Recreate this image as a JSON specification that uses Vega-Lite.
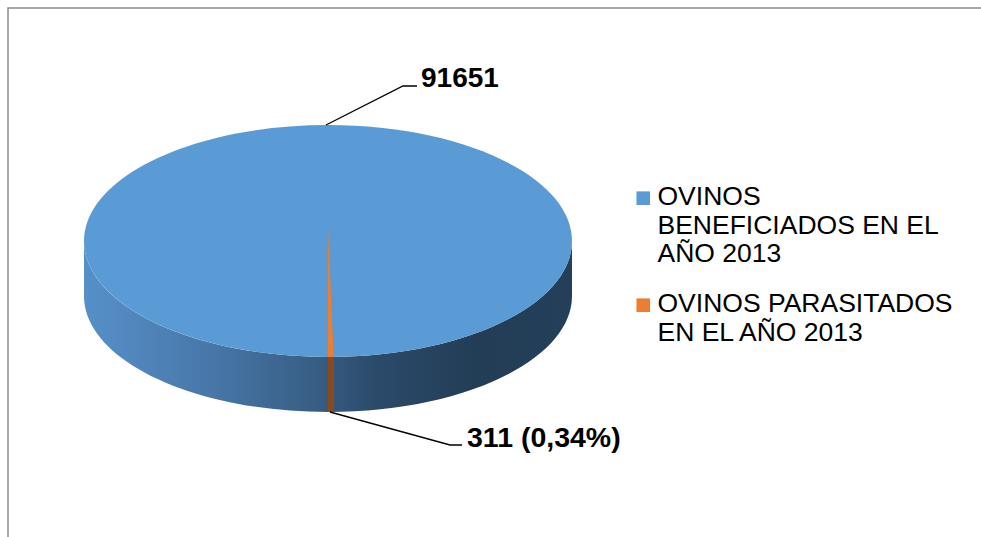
{
  "$schema": "https://vega.github.io/schema/vega-lite/v6.json",
  "autosize": {"type": "none"},
  "padding": {"left": 8, "top": 8, "right": -37, "bottom": -16},
  "width": 1010,
  "height": 545,
  "background": "#ffffff",
  "view": {"stroke": "#8a8a8a", "strokeWidth": 1.5, "fill": "#ffffff"},
  "config": {
    "view": {"stroke": "#8a8a8a", "strokeWidth": 1.5},
    "font": "Liberation Sans"
  },
  "data": {
    "values": [
      {"categoria": "OVINOS BENEFICIADOS EN EL AÑO 2013", "valor": 91651, "etiqueta": "91651"},
      {"categoria": "OVINOS PARASITADOS EN EL AÑO 2013", "valor": 311, "etiqueta": "311 (0,34%)"}
    ]
  },
  "layer": [
    {
      "transform": [{"filter": "datum.valor > 1000"}],
      "mark": {
        "type": "point", "filled": true, "opacity": 1, "size": 4, "strokeWidth": 0,
        "xOffset": -185, "yOffset": -39.5,
        "shape": "M -244 0 L -244 55 A 244 116 0 0 0 244 55 L 244 0 A 244 116 0 0 1 -244 0 Z",
        "fill": {"gradient": "linear", "x1": 0, "y1": 0, "x2": 1, "y2": 0,
          "stops": [
            {"offset": 0, "color": "#5690c9"},
            {"offset": 0.25, "color": "#4878aa"},
            {"offset": 0.48, "color": "#375d83"},
            {"offset": 0.6, "color": "#2b4a6a"},
            {"offset": 0.8, "color": "#233d56"},
            {"offset": 1, "color": "#243f59"}
          ]}
      },
      "encoding": {}
    },
    {
      "transform": [{"filter": "datum.valor < 1000"}],
      "mark": {
        "type": "point", "filled": true, "opacity": 1, "size": 4, "strokeWidth": 0,
        "xOffset": -185, "yOffset": -39.5,
        "shape": "M 0 115.5 L 5.8 115.5 L 5.8 171 L 0 171 Z",
        "fill": "#8a4a1f"
      },
      "encoding": {}
    },
    {
      "transform": [{"filter": "datum.valor > 1000"}],
      "mark": {
        "type": "point", "filled": true, "opacity": 1, "size": 4, "strokeWidth": 0,
        "xOffset": -185, "yOffset": -39.5,
        "shape": "M -244 0 A 244 116 0 1 0 244 0 A 244 116 0 1 0 -244 0 Z"
      },
      "encoding": {
        "color": {
          "field": "categoria", "type": "nominal",
          "scale": {
            "domain": ["OVINOS BENEFICIADOS EN EL AÑO 2013", "OVINOS PARASITADOS EN EL AÑO 2013"],
            "range": ["#5b9bd5", "#ed7d31"]
          },
          "legend": {
            "title": null,
            "orient": "none",
            "legendX": 622,
            "legendY": 163,
            "padding": 0,
            "symbolType": "M -1 1.05 H 1 V 3.05 H -1 Z",
            "symbolSize": 185,
            "symbolStrokeWidth": 0,
            "symbolOpacity": 1,
            "labelFont": "Liberation Sans",
            "labelFontSize": 26.5,
            "labelLineHeight": 30,
            "labelColor": "#000000",
            "labelLimit": 0,
            "labelOffset": 1,
            "labelBaseline": "top",
            "rowPadding": 10,
            "labelExpr": "datum.label == 'OVINOS BENEFICIADOS EN EL AÑO 2013' ? ['OVINOS', 'BENEFICIADOS EN EL', 'AÑO 2013'] : ['OVINOS PARASITADOS', 'EN EL AÑO 2013']"
          }
        }
      }
    },
    {
      "transform": [{"filter": "datum.valor < 1000"}],
      "mark": {
        "type": "point", "filled": true, "opacity": 1, "size": 4, "strokeWidth": 0,
        "xOffset": -185, "yOffset": -39.5,
        "shape": "M 0 -13 L 0 116 L 5.6 115.8 Z"
      },
      "encoding": {
        "color": {"field": "categoria", "type": "nominal"}
      }
    },
    {
      "transform": [{"filter": "datum.valor > 1000"}],
      "mark": {
        "type": "point", "filled": false, "opacity": 1, "size": 4, "stroke": "#000000", "strokeWidth": 1.3,
        "xOffset": -185, "yOffset": -39.5,
        "shape": "M -2 -116 L 75 -155 L 89 -155"
      },
      "encoding": {}
    },
    {
      "transform": [{"filter": "datum.valor < 1000"}],
      "mark": {
        "type": "point", "filled": false, "opacity": 1, "size": 4, "stroke": "#000000", "strokeWidth": 1.3,
        "xOffset": -185, "yOffset": -39.5,
        "shape": "M 2 171 L 122 204 L 134 204"
      },
      "encoding": {}
    },
    {
      "transform": [{"filter": "datum.valor > 1000"}],
      "mark": {
        "type": "text", "align": "left", "baseline": "alphabetic",
        "font": "Liberation Sans", "fontSize": 28, "fontWeight": "bold", "color": "#000000",
        "dx": -92, "dy": -193.5
      },
      "encoding": {"text": {"field": "etiqueta"}}
    },
    {
      "transform": [{"filter": "datum.valor < 1000"}],
      "mark": {
        "type": "text", "align": "left", "baseline": "alphabetic",
        "font": "Liberation Sans", "fontSize": 28.5, "fontWeight": "bold", "color": "#000000",
        "dx": -46, "dy": 166.5
      },
      "encoding": {"text": {"field": "etiqueta"}}
    }
  ]
}
